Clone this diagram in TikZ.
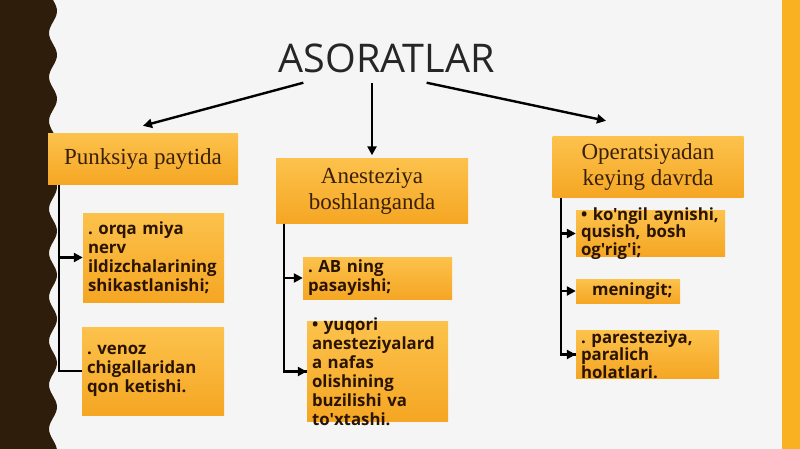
\documentclass[tikz,border=0pt]{standalone}
\usepackage{fontspec}
\setmainfont{Liberation Serif}
\newfontfamily\sansfont{Open Sans}
\usetikzlibrary{arrows.meta}
\definecolor{band}{HTML}{2E1D0B}
\definecolor{paper}{HTML}{F5F5F5}
\definecolor{boxtop}{HTML}{FCC24C}
\definecolor{boxbot}{HTML}{F5A623}
\definecolor{strip}{HTML}{F9B121}
\definecolor{ink}{HTML}{3A2008}
\definecolor{itemink}{HTML}{2A1400}
\frenchspacing

\begin{document}
\begin{tikzpicture}[x=1pt,y=-1pt,>={Triangle[length=9pt,width=9pt]}]
  \tikzstyle{head}=[rectangle,top color=boxtop,bottom color=boxbot,text=ink,font=\fontsize{23}{26}\selectfont,align=center,inner sep=2pt]
  \tikzstyle{item}=[rectangle,top color=boxtop,bottom color=boxbot,text=itemink,font=\sansfont\bfseries\fontsize{16.8}{19}\selectfont,align=left,inner xsep=5pt,inner ysep=2pt]
  \tikzstyle{tight}=[font=\sansfont\bfseries\fontsize{16.8}{17.5}\selectfont]
  \tikzstyle{line}=[line width=2.4pt,black]

  % background, left band and right strip
  \fill[paper] (0,0) rectangle (800,449);
  \fill[band] (0,0) -- plot[domain=0:449,samples=150] ({53+4*sin(\x*8.1818)},\x) -- (0,449) -- cycle;
  \fill[strip] (782,0) rectangle (800,449);

  \node[font=\sansfont\fontsize{39.5}{43}\selectfont,text=black!85,inner xsep=0pt,inner ysep=10pt] (title) at (386.5,58) {ASORATLAR};

  \node[head,minimum width=190pt,minimum height=51pt] (pp) at (143,159.5) {Punksiya paytida};
  \node[head,minimum width=192pt,minimum height=65pt] (an) at (372,191) {Anesteziya\\boshlanganda};
  \node[head,minimum width=191pt,minimum height=61pt] (op) at (648,167.5) {Operatsiyadan\\keying davrda};

  \node[item,text width=131pt,minimum height=89pt] (p1) at (153.5,257.5) {. orqa miya\\nerv\\ildizchalarining\\shikastlanishi;};
  \node[item,text width=132pt,minimum height=88pt] (p2) at (153,371) {. venoz\\chigallaridan\\qon ketishi.};

  \node[item,text width=139pt,minimum height=42pt] (a1) at (377.5,278) {. AB ning\\pasayishi;};
  \node[item,text width=131pt,inner ysep=-4pt] (a2) at (377.5,371.5) {• yuqori\\anesteziyalard\\a nafas\\olishining\\buzilishi va\\to'xtashi.};

  \node[item,tight,text width=139pt,inner ysep=-3pt] (o1) at (650.5,233.5) {• ko'ngil aynishi,\\qusish, bosh\\og'rig'i;};
  \node[item,text width=94pt,minimum height=24pt,inner ysep=0pt] (o2) at (628,291) {\hspace*{11pt}meningit;};
  \node[item,tight,text width=133pt,inner ysep=0pt] (o3) at (647.5,354.5) {. paresteziya,\\paralich\\holatlari.};

  \draw[->,line] ([xshift=25pt]title.south west) -- ([yshift=8pt]pp.north);
  \draw[->,line] (an.north |- title.south) -- ([yshift=3pt]an.north);
  \draw[->,line] ([xshift=-68pt]title.south east) -- ([xshift=-42pt,yshift=16pt]op.north);

  \draw[line] ([xshift=11pt]pp.south west) |- (p2.west);
  \draw[->,line] ([xshift=11pt]pp.south west) |- (p1.west);

  \draw[line] ([xshift=8pt]an.south west) |- (a2.west);
  \draw[->,line] ([xshift=8pt]an.south west) |- (a1.west);
  \draw[->,line] ([xshift=8pt]an.south west) |- (a2.west);

  \draw[line] ([xshift=8.5pt]op.south west) |- (o3.west);
  \draw[->,line] ([xshift=8.5pt]op.south west) |- (o1.west);
  \draw[->,line] ([xshift=8.5pt]op.south west) |- (o2.west);
  \draw[->,line] ([xshift=8.5pt]op.south west) |- (o3.west);
\end{tikzpicture}
\end{document}
